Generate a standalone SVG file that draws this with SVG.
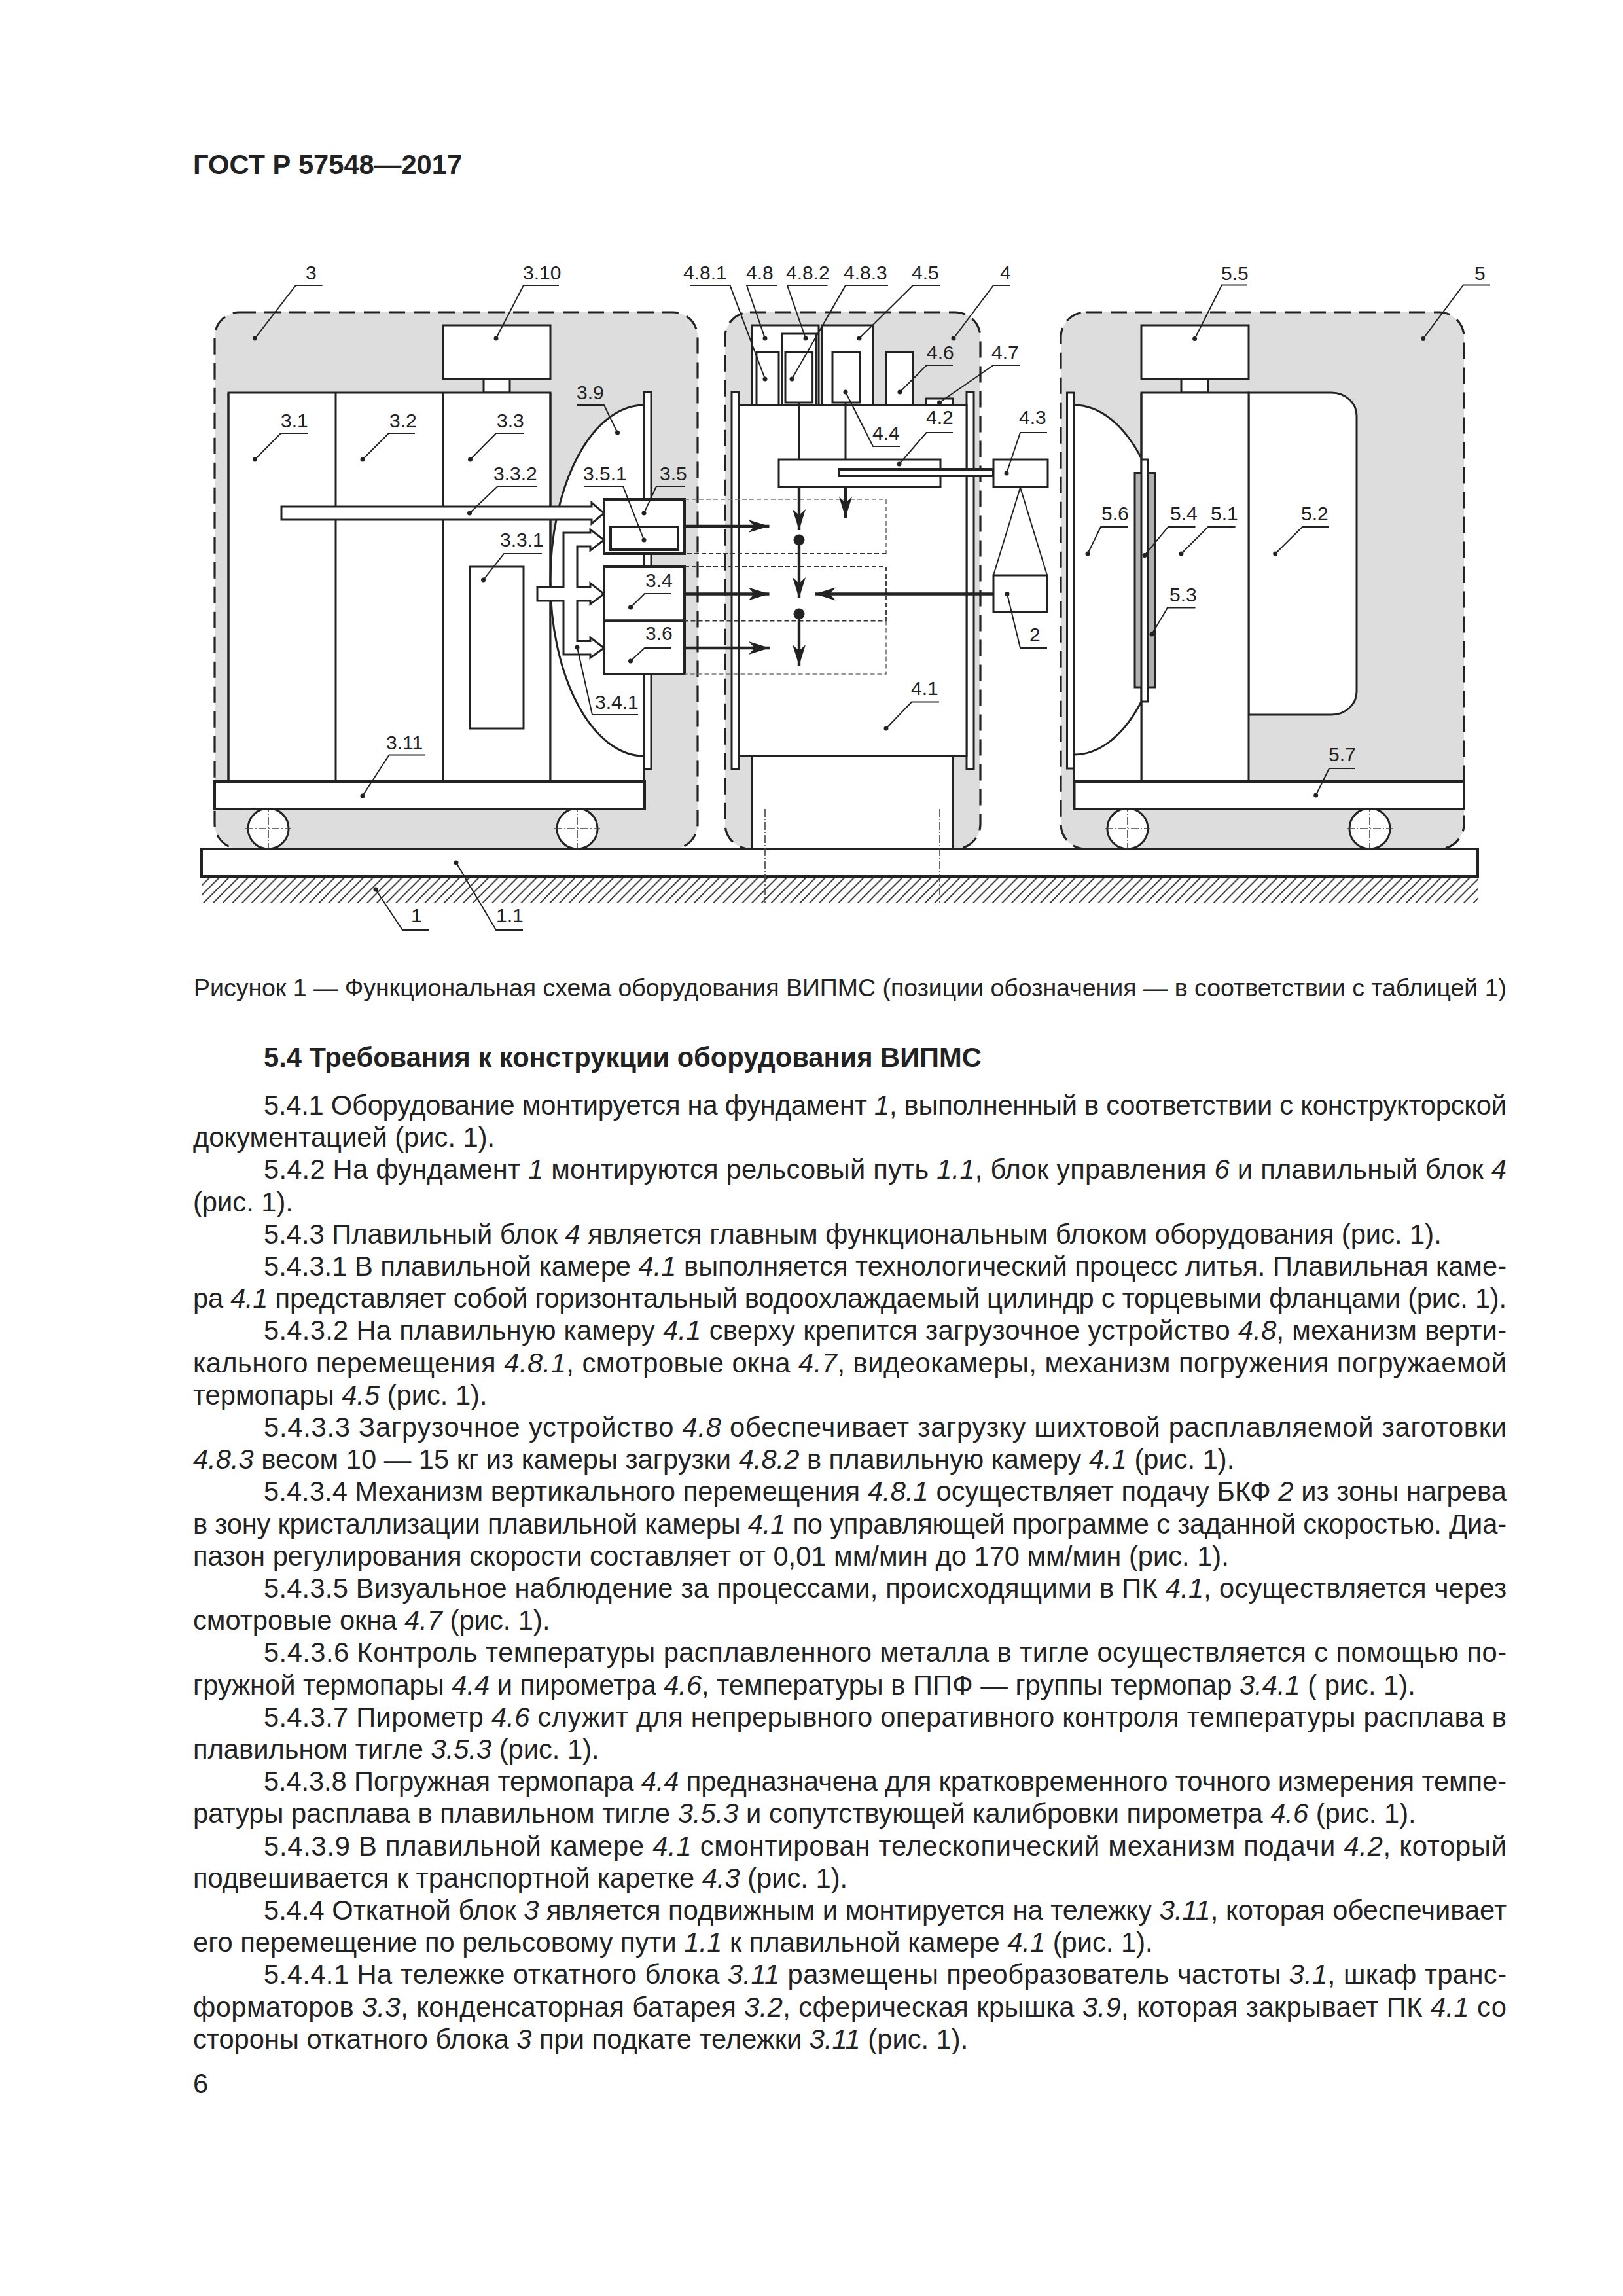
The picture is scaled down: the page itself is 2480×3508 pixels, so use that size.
<svg xmlns="http://www.w3.org/2000/svg" width="2480" height="3508" viewBox="0 0 2480 3508">
<style>
text{font-family:"Liberation Sans",Arial,sans-serif;fill:#222}
.b{font-size:41.67px}
.h{font-size:41.67px;font-weight:bold}
.c{font-size:37.5px}
.l{font-size:30px}
.i{font-style:italic}
.s{fill:#fff;stroke:#222;stroke-width:3}
.t{fill:#fff;stroke:#222;stroke-width:4}
.n{fill:none;stroke:#222;stroke-width:3}
.zone{fill:#dddddd;stroke:#222;stroke-width:3.2;stroke-dasharray:25 13}
.ld{fill:none;stroke:#222;stroke-width:2}
.dot{fill:#222}
.ar{fill:none;stroke:#222;stroke-width:4.4}
.cl{fill:none;stroke:#444;stroke-width:1.6;stroke-dasharray:12 3 2 3}
.dl{fill:none;stroke:#777;stroke-width:1.6;stroke-dasharray:7 4}
.dd{fill:none;stroke:#333;stroke-width:1.8;stroke-dasharray:7 4}
</style>
<defs>
<marker id="head" markerUnits="userSpaceOnUse" markerWidth="34" markerHeight="22" refX="32" refY="10" orient="auto"><path d="M32 10L0 0L9 10L0 20Z" fill="#222"/></marker>
<pattern id="hatch" patternUnits="userSpaceOnUse" width="14.7" height="14.7"><path d="M-3.7 3.7L3.7 -3.7M0 14.7L14.7 0M11 18.4L18.4 11" stroke="#222" stroke-width="1.8" fill="none"/></pattern>
</defs>
<rect width="2480" height="3508" fill="#fff"/>
<text class="h" x="295" y="266">ГОСТ Р 57548—2017</text>

<g id="zones">
<rect class="zone" x="328" y="477" width="738" height="820" rx="38" ry="38"/>
<rect class="zone" x="1108" y="477" width="390" height="820" rx="38" ry="38"/>
<rect class="zone" x="1621" y="477" width="616" height="820" rx="38" ry="38"/>
</g>

<g id="foundation">
<rect x="308" y="1339" width="1950" height="41" fill="url(#hatch)"/>
<rect class="t" x="308" y="1297" width="1950" height="42"/>
</g>

<g id="block-3">
<rect class="s" x="677" y="497" width="164" height="82"/>
<rect class="s" x="739" y="579" width="40" height="21"/>
<rect class="s" x="349" y="600" width="492" height="594"/>
<path class="n" d="M513 600V1194M677 600V1194"/>
<path d="M984 619A143 268 0 0 0 841 887V1194H984Z" fill="#fff"/>
<path class="n" d="M984 619A143 268 0 0 0 984 1155V1194"/>
<path class="n" d="M841 600V1194"/>
<rect class="s" x="984" y="599" width="11" height="576"/>
<rect class="s" x="717.500" y="866" width="82.500" height="247"/>
<circle class="s" cx="410" cy="1266" r="31"/>
<circle class="s" cx="882" cy="1266" r="31"/>
<path class="cl" d="M410 1228V1297M375 1266H445M882 1228V1297M847 1266H917"/>
<rect class="t" x="328" y="1194" width="657" height="42"/>
<path class="n" d="M349 600V1194"/>
<rect class="t" x="923" y="763" width="123" height="83"/>
<rect class="t" x="933" y="805" width="103" height="35"/>
<rect class="t" x="923" y="866" width="123" height="82.500"/>
<rect class="t" x="923" y="948.500" width="123" height="81.500"/>
<path class="s" d="M430 774H904V768L923 784L904 800V794H430Z"/>
<path class="s" d="M821 897H861V814H902V809L923 825L902 841V835H882V897H902V891L923 907.500L902 923V918H882V979.500H902V974L923 990L902 1005V1000H861V918H821Z"/>
</g>

<g id="block-4">
<rect class="s" x="1118" y="599" width="11" height="576"/>
<rect class="s" x="1477" y="599" width="11" height="576"/>
<rect class="s" x="1128.600" y="619" width="348.400" height="536"/>
<rect class="s" x="1149" y="1155" width="307" height="142"/>
<rect class="s" x="1149" y="497" width="102" height="122"/>
<rect class="s" x="1156" y="538" width="34" height="81"/>
<rect class="s" x="1195" y="510" width="52" height="109"/>
<rect class="s" x="1200" y="538" width="41.600" height="77"/>
<rect class="s" x="1256" y="497" width="78" height="122"/>
<rect class="s" x="1272" y="538" width="41.500" height="77"/>
<rect class="s" x="1354" y="538" width="41" height="81"/>
<rect class="s" x="1415.500" y="609" width="40.500" height="10"/>
<path class="n" d="M1221 615V702M1292 615V702"/>
<rect class="s" x="1190" y="702" width="247" height="42"/>
<rect class="t" x="1282" y="717" width="236" height="10"/>
<rect class="s" x="1518" y="702" width="83" height="42"/>
<path class="ld" d="M1518 879L1559 745L1600 879"/>
<rect class="s" x="1518" y="879" width="82" height="56"/>
<path class="cl" d="M1169 1236V1380M1436 1236V1380"/>
</g>

<g id="block-5">
<rect class="s" x="1744" y="497" width="164" height="82"/>
<rect class="s" x="1805" y="579" width="41" height="21"/>
<path class="s" d="M1908 600H2034.500A38.500 35 0 0 1 2073 635V1057A38.500 35 0 0 1 2034.500 1092H1908Z"/>
<rect class="s" x="1744" y="600" width="164" height="594"/>
<path d="M1641.500 619A143 267 0 0 1 1744 700V1194H1641.500Z" fill="#fff"/>
<path class="n" d="M1641.500 619A143 267 0 0 1 1744 700M1744 1072A143 267 0 0 1 1641.500 1153M1641.500 1153V1194M1744 600V1194"/>
<rect class="s" x="1630.500" y="600" width="11" height="574"/>
<rect x="1734" y="722.500" width="30.600" height="327.500" fill="#b0b0b0" stroke="#222" stroke-width="3"/>
<rect class="s" x="1744" y="702" width="10.500" height="370"/>
<circle class="s" cx="1723" cy="1266" r="31"/>
<circle class="s" cx="2093" cy="1266" r="31"/>
<path class="cl" d="M1723 1228V1297M1688 1266H1758M2093 1228V1297M2058 1266H2128"/>
<rect class="t" x="1641.500" y="1194" width="595.500" height="42"/>
</g>

<g id="connectors">
<path class="dl" d="M1046 763H1354V846"/>
<path class="dd" d="M1354 846H1046"/>
<path class="dd" d="M1046 866H1354V948.500H1046"/>
<path class="dl" d="M1354 948.500V1030H1046"/>
<path class="ar" marker-end="url(#head)" d="M1046 804H1175.500"/>
<path class="ar" marker-end="url(#head)" d="M1046 907.500H1175.500"/>
<path class="ar" marker-end="url(#head)" d="M1046 990H1176"/>
<path class="ar" marker-end="url(#head)" d="M1518 907.500H1245"/>
<path class="ar" marker-end="url(#head)" d="M1221 744V810"/>
<path class="ar" marker-end="url(#head)" d="M1292 744V791"/>
<path class="ar" marker-end="url(#head)" d="M1221 825V914"/>
<path class="ar" marker-end="url(#head)" d="M1221 938V1017"/>
<circle class="dot" cx="1221" cy="825" r="8.500"/>
<circle class="dot" cx="1221" cy="938" r="8.500"/>
</g>

<g id="leaders">
<path class="ld" d="M492.500 436H452L389.500 517"/>
<path class="ld" d="M854 436H800L758 517"/>
<path class="ld" d="M470 662H429L389.500 702"/>
<path class="ld" d="M634 662H594L554 702"/>
<path class="ld" d="M800 662H758L718.500 702"/>
<path class="ld" d="M882 619H923L943.500 661"/>
<path class="ld" d="M820.600 743H760.400L717.500 784"/>
<path class="ld" d="M892 743H952L984 825"/>
<path class="ld" d="M1046 743H1003L984 784"/>
<path class="ld" d="M828 846H770L738.500 886"/>
<path class="ld" d="M1026 907H985L963.500 928"/>
<path class="ld" d="M1026 990H985L963.500 1010"/>
<path class="ld" d="M975 1092H905L882 989"/>
<path class="ld" d="M649 1153.500H594.600L554 1216"/>
<path class="ld" d="M656 1421H615L574 1359"/>
<path class="ld" d="M799 1421H758L697 1318"/>
<path class="ld" d="M1054 436H1115.500L1169 579"/>
<path class="ld" d="M1187 436H1141L1169 517"/>
<path class="ld" d="M1264.500 436H1203L1231 517"/>
<path class="ld" d="M1357 436H1292L1210 579"/>
<path class="ld" d="M1436 436H1395L1313 517"/>
<path class="ld" d="M1544 436H1518L1457 517"/>
<path class="ld" d="M1456 558H1416L1375 599"/>
<path class="ld" d="M1559 558H1518L1435.500 615"/>
<path class="ld" d="M1375 682H1334L1292 599"/>
<path class="ld" d="M1456 661H1415.500L1374 709"/>
<path class="ld" d="M1600 661H1559L1538 723"/>
<path class="ld" d="M1600 990H1559L1539 907.500"/>
<path class="ld" d="M1435 1072.600H1393L1354 1113"/>
<path class="ld" d="M1905 435.500H1867L1825.600 517.500"/>
<path class="ld" d="M2277 435.500H2236L2174.600 517.500"/>
<path class="ld" d="M1723 805H1682L1662 846"/>
<path class="ld" d="M1826.500 805H1785L1749 848.500"/>
<path class="ld" d="M1887.600 805H1846L1805 846"/>
<path class="ld" d="M2031 805H1990L1948.700 846"/>
<path class="ld" d="M1826.500 928.600H1784L1760 969"/>
<path class="ld" d="M2071 1174H2031L2010.700 1215"/>
<g class="dot">
<circle cx="389.500" cy="517" r="3.500"/><circle cx="758" cy="517" r="3.500"/><circle cx="389.500" cy="702" r="3.500"/><circle cx="554" cy="702" r="3.500"/><circle cx="718.500" cy="702" r="3.500"/><circle cx="943.500" cy="661" r="3.500"/><circle cx="717.500" cy="784" r="3.500"/><circle cx="984" cy="825" r="3.500"/><circle cx="984" cy="784" r="3.500"/><circle cx="738.500" cy="886" r="3.500"/><circle cx="963.500" cy="928" r="3.500"/><circle cx="963.500" cy="1010" r="3.500"/><circle cx="882" cy="989" r="3.500"/><circle cx="554" cy="1216" r="3.500"/><circle cx="574" cy="1359" r="3.500"/><circle cx="697" cy="1318" r="3.500"/><circle cx="1169" cy="579" r="3.500"/><circle cx="1169" cy="517" r="3.500"/><circle cx="1231" cy="517" r="3.500"/><circle cx="1210" cy="579" r="3.500"/><circle cx="1313" cy="517" r="3.500"/><circle cx="1457" cy="517" r="3.500"/><circle cx="1375" cy="599" r="3.500"/><circle cx="1435.500" cy="615" r="3.500"/><circle cx="1292" cy="599" r="3.500"/><circle cx="1374" cy="709" r="3.500"/><circle cx="1538" cy="723" r="3.500"/><circle cx="1539" cy="907.500" r="3.500"/><circle cx="1354" cy="1113" r="3.500"/><circle cx="1825.600" cy="517.500" r="3.500"/><circle cx="2174.600" cy="517.500" r="3.500"/><circle cx="1662" cy="846" r="3.500"/><circle cx="1749" cy="848.500" r="3.500"/><circle cx="1805" cy="846" r="3.500"/><circle cx="1948.700" cy="846" r="3.500"/><circle cx="1760" cy="969" r="3.500"/><circle cx="2010.700" cy="1215" r="3.500"/>
</g>
</g>

<g id="labels">
<text class="l" x="467" y="427">3</text>
<text class="l" x="799" y="427">3.10</text>
<text class="l" x="429" y="653">3.1</text>
<text class="l" x="595" y="653">3.2</text>
<text class="l" x="759" y="653">3.3</text>
<text class="l" x="881" y="610">3.9</text>
<text class="l" x="754" y="734">3.3.2</text>
<text class="l" x="891" y="734">3.5.1</text>
<text class="l" x="1008" y="734">3.5</text>
<text class="l" x="764" y="835">3.3.1</text>
<text class="l" x="986" y="897">3.4</text>
<text class="l" x="986" y="978">3.6</text>
<text class="l" x="909" y="1082.500">3.4.1</text>
<text class="l" x="590" y="1145">3.11</text>
<text class="l" x="628" y="1409">1</text>
<text class="l" x="758" y="1409">1.1</text>
<text class="l" x="1044" y="427">4.8.1</text>
<text class="l" x="1140" y="427">4.8</text>
<text class="l" x="1201" y="427">4.8.2</text>
<text class="l" x="1289" y="427">4.8.3</text>
<text class="l" x="1393" y="427">4.5</text>
<text class="l" x="1528" y="427">4</text>
<text class="l" x="1416" y="549">4.6</text>
<text class="l" x="1515" y="549">4.7</text>
<text class="l" x="1333" y="672">4.4</text>
<text class="l" x="1415" y="648">4.2</text>
<text class="l" x="1557" y="648">4.3</text>
<text class="l" x="1573" y="980">2</text>
<text class="l" x="1392" y="1061.500">4.1</text>
<text class="l" x="1866" y="427.500">5.5</text>
<text class="l" x="2253" y="427.500">5</text>
<text class="l" x="1683" y="795">5.6</text>
<text class="l" x="1788" y="795">5.4</text>
<text class="l" x="1850" y="795">5.1</text>
<text class="l" x="1988" y="795">5.2</text>
<text class="l" x="1787" y="919">5.3</text>
<text class="l" x="2030" y="1163">5.7</text>
</g>

<g id="page-text">
<text class="c" x="296" y="1522" textLength="2006">Рисунок 1 — Функциональная схема оборудования ВИПМС (позиции обозначения — в соответствии с таблицей 1)</text>
<text class="h" x="403" y="1630">5.4 Требования к конструкции оборудования ВИПМС</text>
<text class="b" x="403" y="1703" textLength="1899">5.4.1 Оборудование монтируется на фундамент <tspan class="i">1</tspan>, выполненный в соответствии с конструкторской</text>
<text class="b" x="295" y="1752.200">документацией (рис. 1).</text>
<text class="b" x="403" y="1801.400" textLength="1899">5.4.2 На фундамент <tspan class="i">1</tspan> монтируются рельсовый путь <tspan class="i">1.1</tspan>, блок управления <tspan class="i">6</tspan> и плавильный блок <tspan class="i">4</tspan></text>
<text class="b" x="295" y="1850.600">(рис. 1).</text>
<text class="b" x="403" y="1899.800">5.4.3 Плавильный блок <tspan class="i">4</tspan> является главным функциональным блоком оборудования (рис. 1).</text>
<text class="b" x="403" y="1949" textLength="1899">5.4.3.1 В плавильной камере <tspan class="i">4.1</tspan> выполняется технологический процесс литья. Плавильная каме-</text>
<text class="b" x="295" y="1998.200" textLength="2007">ра <tspan class="i">4.1</tspan> представляет собой горизонтальный водоохлаждаемый цилиндр с торцевыми фланцами (рис. 1).</text>
<text class="b" x="403" y="2047.400" textLength="1899">5.4.3.2 На плавильную камеру <tspan class="i">4.1</tspan> сверху крепится загрузочное устройство <tspan class="i">4.8</tspan>, механизм верти-</text>
<text class="b" x="295" y="2096.600" textLength="2007">кального перемещения <tspan class="i">4.8.1</tspan>, смотровые окна <tspan class="i">4.7</tspan>, видеокамеры, механизм погружения погружаемой</text>
<text class="b" x="295" y="2145.800">термопары <tspan class="i">4.5</tspan> (рис. 1).</text>
<text class="b" x="403" y="2195" textLength="1899">5.4.3.3 Загрузочное устройство <tspan class="i">4.8</tspan> обеспечивает загрузку шихтовой расплавляемой заготовки</text>
<text class="b" x="295" y="2244.200"><tspan class="i">4.8.3</tspan> весом 10 — 15 кг из камеры загрузки <tspan class="i">4.8.2</tspan> в плавильную камеру <tspan class="i">4.1</tspan> (рис. 1).</text>
<text class="b" x="403" y="2293.400" textLength="1899">5.4.3.4 Механизм вертикального перемещения <tspan class="i">4.8.1</tspan> осуществляет подачу БКФ <tspan class="i">2</tspan> из зоны нагрева</text>
<text class="b" x="295" y="2342.600" textLength="2007">в зону кристаллизации плавильной камеры <tspan class="i">4.1</tspan> по управляющей программе с заданной скоростью. Диа-</text>
<text class="b" x="295" y="2391.800">пазон регулирования скорости составляет от 0,01 мм/мин до 170 мм/мин (рис. 1).</text>
<text class="b" x="403" y="2441" textLength="1899">5.4.3.5 Визуальное наблюдение за процессами, происходящими в ПК <tspan class="i">4.1</tspan>, осуществляется через</text>
<text class="b" x="295" y="2490.200">смотровые окна <tspan class="i">4.7</tspan> (рис. 1).</text>
<text class="b" x="403" y="2539.400" textLength="1899">5.4.3.6 Контроль температуры расплавленного металла в тигле осуществляется с помощью по-</text>
<text class="b" x="295" y="2588.600">гружной термопары <tspan class="i">4.4</tspan> и пирометра <tspan class="i">4.6</tspan>, температуры в ППФ — группы термопар <tspan class="i">3.4.1</tspan> ( рис. 1).</text>
<text class="b" x="403" y="2637.800" textLength="1899">5.4.3.7 Пирометр <tspan class="i">4.6</tspan> служит для непрерывного оперативного контроля температуры расплава в</text>
<text class="b" x="295" y="2687">плавильном тигле <tspan class="i">3.5.3</tspan> (рис. 1).</text>
<text class="b" x="403" y="2736.200" textLength="1899">5.4.3.8 Погружная термопара <tspan class="i">4.4</tspan> предназначена для кратковременного точного измерения темпе-</text>
<text class="b" x="295" y="2785.400">ратуры расплава в плавильном тигле <tspan class="i">3.5.3</tspan> и сопутствующей калибровки пирометра <tspan class="i">4.6</tspan> (рис. 1).</text>
<text class="b" x="403" y="2834.600" textLength="1899">5.4.3.9 В плавильной камере <tspan class="i">4.1</tspan> смонтирован телескопический механизм подачи <tspan class="i">4.2</tspan>, который</text>
<text class="b" x="295" y="2883.800">подвешивается к транспортной каретке <tspan class="i">4.3</tspan> (рис. 1).</text>
<text class="b" x="403" y="2933" textLength="1899">5.4.4 Откатной блок <tspan class="i">3</tspan> является подвижным и монтируется на тележку <tspan class="i">3.11</tspan>, которая обеспечивает</text>
<text class="b" x="295" y="2982.200">его перемещение по рельсовому пути <tspan class="i">1.1</tspan> к плавильной камере <tspan class="i">4.1</tspan> (рис. 1).</text>
<text class="b" x="403" y="3031.400" textLength="1899">5.4.4.1 На тележке откатного блока <tspan class="i">3.11</tspan> размещены преобразователь частоты <tspan class="i">3.1</tspan>, шкаф транс-</text>
<text class="b" x="295" y="3080.600" textLength="2007">форматоров <tspan class="i">3.3</tspan>, конденсаторная батарея <tspan class="i">3.2</tspan>, сферическая крышка <tspan class="i">3.9</tspan>, которая закрывает ПК <tspan class="i">4.1</tspan> со</text>
<text class="b" x="295" y="3129.800">стороны откатного блока <tspan class="i">3</tspan> при подкате тележки <tspan class="i">3.11</tspan> (рис. 1).</text>
<text class="b" x="295" y="3198">6</text>
</g>
</svg>
